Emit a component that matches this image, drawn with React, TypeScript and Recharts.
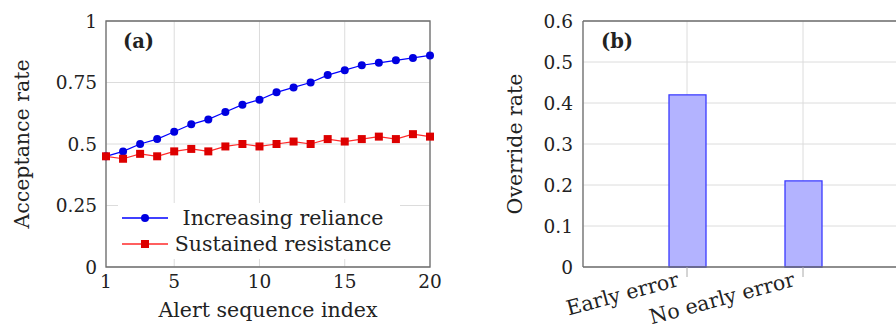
import React from "react";
import {
  LineChart, Line, BarChart, Bar, XAxis, YAxis, CartesianGrid, Legend,
  ReferenceArea, ReferenceLine
} from "recharts";

const alertIndex = [1, 2, 3, 4, 5, 6, 7, 8, 9, 10, 11, 12, 13, 14, 15, 16, 17, 18, 19, 20];
const increasingReliance = [0.45, 0.47, 0.5, 0.52, 0.55, 0.58, 0.6, 0.63, 0.66, 0.68, 0.71, 0.73, 0.75, 0.78, 0.8, 0.82, 0.83, 0.84, 0.85, 0.86];
const sustainedResistance = [0.45, 0.44, 0.46, 0.45, 0.47, 0.48, 0.47, 0.49, 0.5, 0.49, 0.5, 0.51, 0.5, 0.52, 0.51, 0.52, 0.53, 0.52, 0.54, 0.53];
const xTicksA = [1, 5, 10, 15, 20];
const yTicksA = [0, 0.25, 0.5, 0.75, 1];

const errorGroups = ["Early error", "No early error"];
const overrideRate = [0.42, 0.21];
const yTicksB = [0, 0.1, 0.2, 0.3, 0.4, 0.5, 0.6];

const FONT = "'DejaVu Serif', serif";
const TEXT = "#222";
const GRID = "#dcdcdc";
const FRAME = "#6e6e6e";
const BLUE = "#0000ff";
const RED = "#ff2a2a";
const LABEL_SIZE = 20.5;

const lineData = alertIndex.map((x, i) => ({
  x,
  inc: increasingReliance[i],
  sus: sustainedResistance[i],
}));
const barData = errorGroups.map((name, i) => ({ name, rate: overrideRate[i] }));

const tickStyle = { fontFamily: FONT, fontSize: 18.5, fill: TEXT };
const labelStyle = { fontFamily: FONT, fontSize: LABEL_SIZE, fill: TEXT };

const SquareDot = (p: any) => {
  const { cx, cy } = p;
  if (cx == null || cy == null) return null;
  return <rect x={cx - 4} y={cy - 4} width={8} height={8} fill="#dd0000" />;
};

const legendItems = [
  { label: "Increasing reliance", color: BLUE, shape: "circle" },
  { label: "Sustained resistance", color: RED, shape: "square" },
];

const renderLegend = () => (
  <div style={{ background: "#fff", padding: "2px 4px", fontFamily: FONT, fontSize: LABEL_SIZE, color: TEXT }}>
    {legendItems.map((it) => (
      <div key={it.label} style={{ display: "flex", alignItems: "center", height: 26 }}>
        <svg width={48} height={14}>
          <line x1={0} y1={7} x2={46} y2={7} stroke={it.color} strokeWidth={1.3} />
          {it.shape === "circle" ? (
            <circle cx={23} cy={7} r={4} fill="#0000e0" />
          ) : (
            <rect x={19} y={3} width={8} height={8} fill="#dd0000" />
          )}
        </svg>
        <span style={{ width: 226, textAlign: "center", whiteSpace: "nowrap" }}>{it.label}</span>
      </div>
    ))}
  </div>
);

// slanted category labels, end of text sits just left of the tick
const RotTick = (p: any) => {
  const { x, y, payload } = p;
  return (
    <g transform={`translate(${x},${y})`}>
      <text x={-9} y={-8} dy="0.71em" textAnchor="end" transform="rotate(-15)"
        style={{ fontFamily: FONT, fontSize: 20.5, fill: TEXT }}>
        {payload.value}
      </text>
    </g>
  );
};

const tagStyle: React.CSSProperties = {
  position: "absolute", fontFamily: FONT, fontWeight: "bold", fontSize: 19.5, color: TEXT,
};

export default function App() {
  return (
    <div style={{ position: "absolute", left: 0, top: 0, width: 896, height: 329, overflow: "hidden", background: "#fff" }}>
      <div style={{ position: "absolute", left: 0, top: 0 }}>
        <LineChart width={450} height={329} data={lineData} margin={{ top: 21, right: 20, bottom: 0, left: 0 }}>
          <CartesianGrid stroke={GRID} strokeWidth={1} />
          <XAxis dataKey="x" type="number" domain={[1, 20]} ticks={xTicksA} height={62}
            tick={tickStyle} tickLine={false} axisLine={false} tickSize={0} tickMargin={8}
            label={{ value: "Alert sequence index", position: "insideBottom", offset: 12, style: labelStyle }} />
          <YAxis type="number" domain={[0, 1]} ticks={yTicksA} width={106}
            tick={tickStyle} tickLine={false} axisLine={false} tickSize={0} tickMargin={9}
            label={{ value: "Acceptance rate", angle: -90, position: "insideLeft", offset: 22, style: { ...labelStyle, textAnchor: "middle" } }} />
          <ReferenceArea x1={1} x2={20} y1={0} y2={1} fill="none" stroke={FRAME} strokeWidth={1.3} />
          <Line dataKey="inc" stroke={BLUE} strokeWidth={1.2} isAnimationActive={false}
            dot={{ r: 4, fill: "#0000e0", stroke: "#0000e0", strokeWidth: 0 }} />
          <Line dataKey="sus" stroke={RED} strokeWidth={1.2} isAnimationActive={false}
            dot={<SquareDot />} />
          <Legend layout="vertical" align="center" verticalAlign="middle" content={renderLegend}
            wrapperStyle={{ left: 118, top: 203, width: "auto" }} />
        </LineChart>
        <div style={{ ...tagStyle, left: 123, top: 30 }}>(a)</div>
      </div>

      <div style={{ position: "absolute", left: 450, top: 0 }}>
        <BarChart width={470} height={329} data={barData} margin={{ top: 12, right: 13, bottom: 0, left: 0 }}>
          <CartesianGrid stroke={GRID} strokeWidth={1} />
          <XAxis dataKey="name" height={62} padding={{ left: 46, right: 46 }}
            tick={<RotTick />} tickLine={{ stroke: "#aaa" }} tickSize={10} tickMargin={0}
            axisLine={{ stroke: FRAME, strokeWidth: 1.3 }} interval={0} />
          <XAxis xAxisId="top" dataKey="name" orientation="top" height={9} padding={{ left: 46, right: 46 }}
            tick={false} tickLine={{ stroke: "#aaa" }} tickSize={9} axisLine={false} />
          <YAxis type="number" domain={[0, 0.6]} ticks={yTicksB} width={133}
            tick={tickStyle} tickLine={false} axisLine={{ stroke: FRAME, strokeWidth: 1.3 }} tickSize={0} tickMargin={10}
            label={{ value: "Override rate", angle: -90, position: "insideLeft", offset: 65, style: { ...labelStyle, textAnchor: "middle" } }} />
          <ReferenceLine y={0.6} stroke={FRAME} strokeWidth={1.3} />
          <Bar dataKey="rate" barSize={37} fill="#b3b3ff" stroke="#3a3aff" strokeWidth={1.3} isAnimationActive={false} />
        </BarChart>
        <div style={{ ...tagStyle, left: 151, top: 30 }}>(b)</div>
      </div>
    </div>
  );
}
